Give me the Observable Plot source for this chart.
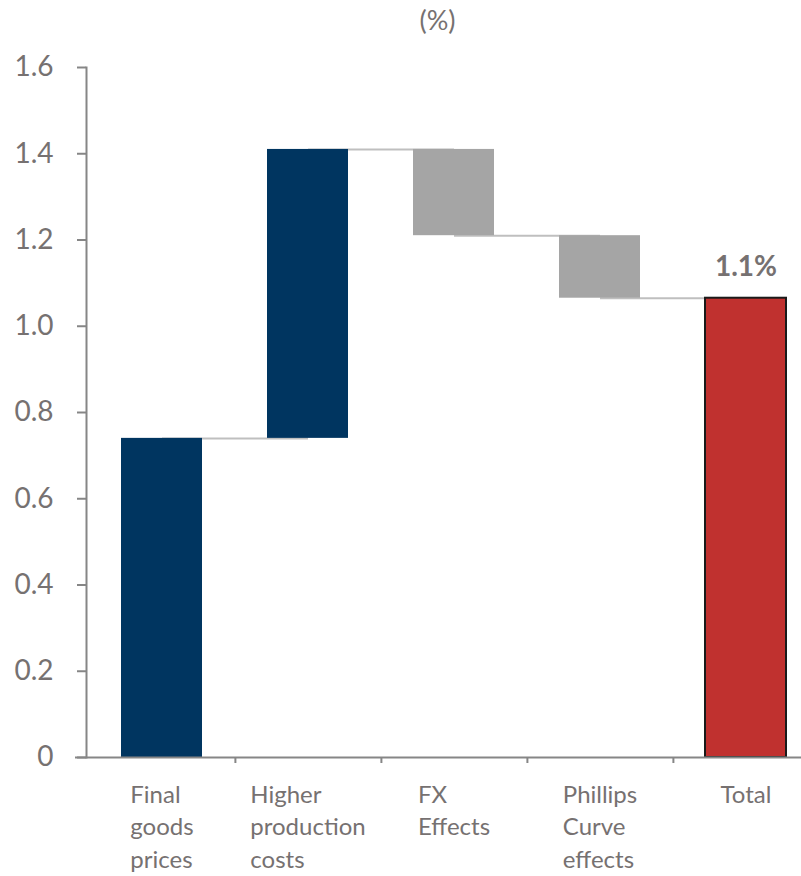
<!DOCTYPE html>
<html>
<head>
<meta charset="utf-8">
<script src="https://cdn.jsdelivr.net/npm/d3@7"></script>
<script src="https://cdn.jsdelivr.net/npm/@observablehq/plot@0.6"></script>
<style>
  body { margin: 0; background: #fff; }
  #title { box-sizing: border-box; width: 801px; height: 40px; padding-left: 74px; text-align: center;
           font: 27px Lato, sans-serif; line-height: 40px; color: #767171; }
  #chart svg { display: block; }
</style>
</head>
<body>
<div id="title">(%)</div>
<div id="chart"></div>
<script>
// ---- data ----
const categories = ["Final goods prices", "Higher production costs", "FX Effects", "Phillips Curve effects", "Total"];
const labelLines = [["Final", "goods", "prices"], ["Higher", "production", "costs"], ["FX", "Effects"], ["Phillips", "Curve", "effects"], ["Total"]];
const changes = [0.74, 0.67, -0.20, -0.145];      // contributions (pp)
const kinds = ["up", "up", "down", "down", "total"];
const yTicks = [0, 0.2, 0.4, 0.6, 0.8, 1.0, 1.2, 1.4, 1.6];

// ---- build waterfall table ----
let run = 0;
const bars = changes.map((c, i) => {
  const start = run; run += c;
  return {cat: categories[i], y1: start, y2: run, kind: kinds[i]};
});
const total = run;
bars.push({cat: categories[4], y1: 0, y2: total, kind: "total"});
const connectors = bars.slice(0, -1).map((b, i) => ({from: b.cat, to: bars[i + 1].cat, level: b.y2}));

// ---- layout ----
const W = 801, H = 836, mL = 86, mR = -19, mT = 27, mB = 119;
const step = (W - mL - mR) / categories.length;
const gray = "#767171", axisGray = "#868686";
const fontFam = "Lato, sans-serif";
const labelSize = 24;

const ctx = document.createElement("canvas").getContext("2d");
ctx.font = `${labelSize}px Lato`;
const blockW = labelLines.map(ls => d3.max(ls, l => ctx.measureText(l).width));

const labelMarks = categories.map((c, i) => Plot.text([c], {
  x: d => d, y: () => 0, text: () => labelLines[i].join("\n"),
  textAnchor: "start", lineAnchor: "top", lineHeight: 1.36,
  dx: -blockW[i] / 2, dy: 22, fontSize: labelSize, fill: gray
}));

const chart = Plot.plot({
  width: W, height: H, marginLeft: mL, marginRight: mR, marginTop: mT, marginBottom: mB,
  style: {fontFamily: fontFam, background: "#fff", overflow: "hidden"},
  x: {domain: categories, paddingInner: 0.448, paddingOuter: 0.224, axis: null},
  y: {domain: [0, 1.6], axis: null},
  marks: [
    Plot.link(connectors, {x1: "from", x2: "to", y1: "level", y2: "level", stroke: "#bfbfbf", strokeWidth: 2}),
    Plot.barY(bars, {
      x: "cat", y1: "y1", y2: "y2",
      fill: d => d.kind === "up" ? "#003560" : d.kind === "down" ? "#a5a5a5" : "#c0312f",
      stroke: d => d.kind === "total" ? "#1a1a1a" : "none", strokeWidth: 2
    }),
    Plot.frame({anchor: "left", stroke: axisGray, strokeWidth: 2}),
    Plot.ruleY([0], {stroke: axisGray, strokeWidth: 2, insetLeft: -11}),
    Plot.ruleX(categories.slice(0, 4), {x: d => d, y1: () => 0, y2: () => 0, insetBottom: -6, dx: step / 2, stroke: axisGray, strokeWidth: 2}),
    Plot.axisY(yTicks, {
      tickSize: 9, tickPadding: 24, fontSize: 28, stroke: axisGray, strokeWidth: 2, fill: gray,
      tickFormat: d => d === 0 ? "0" : d.toFixed(1), label: null
    }),
    ...labelMarks,
    Plot.text([total], {x: () => categories[4], y: d => d, text: d => d.toFixed(1) + "%",
      dy: -31, fontSize: 28, fontWeight: "bold", fill: gray})
  ]
});
document.getElementById("chart").appendChild(chart);
</script>
</body>
</html>
